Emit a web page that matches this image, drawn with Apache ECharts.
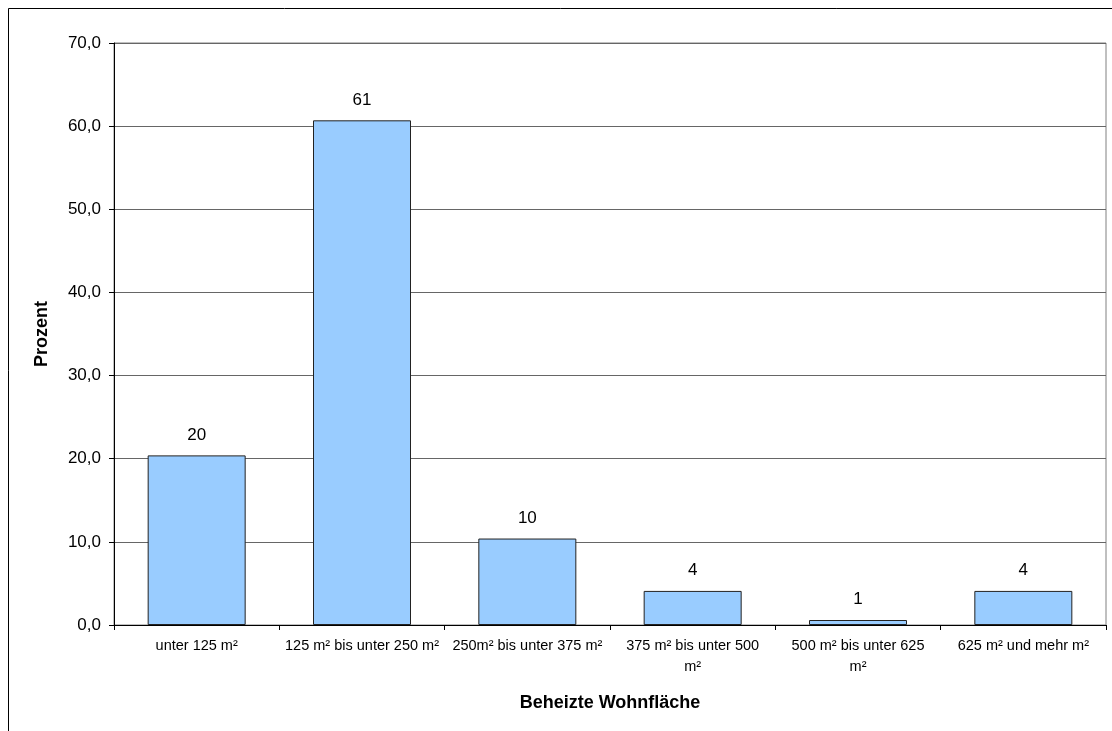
<!DOCTYPE html>
<html>
<head>
<meta charset="utf-8">
<script src="https://cdn.jsdelivr.net/npm/echarts@6/dist/echarts.min.js"></script>
<style>
html,body{margin:0;padding:0;background:#fff;}
#chart{width:1112px;height:731px;}
</style>
</head>
<body>
<div id="chart"></div>
<script>
const categories = [
  'unter 125 m²',
  '125 m² bis unter 250 m²',
  '250m² bis unter 375 m²',
  '375 m² bis unter 500\nm²',
  '500 m² bis unter 625\nm²',
  '625 m² und mehr m²'
];
const values = [20.4, 60.7, 10.4, 4.1, 0.6, 4.1];
const yTicks = { min: 0, max: 70, interval: 10 };
const xAxisTitle = 'Beheizte Wohnfläche';
const yAxisTitle = 'Prozent';

const font = '"Liberation Sans", Arial, sans-serif';
const chart = echarts.init(document.getElementById('chart'), null, {renderer: 'canvas'});
chart.setOption({
  animation: false,
  backgroundColor: '#fff',
  graphic: [{
    type: 'rect',
    shape: {x: 8.5, y: 8.5, width: 1200, height: 800},
    style: {fill: 'none', stroke: '#000', lineWidth: 1},
    silent: true
  }],
  grid: {
    left: 114, right: 6, top: 43, bottom: 106,
    show: true, borderColor: '#808080', borderWidth: 1
  },
  xAxis: {
    type: 'category',
    data: categories,
    name: xAxisTitle,
    nameLocation: 'middle',
    nameGap: 69,
    nameTextStyle: {fontFamily: font, fontWeight: 'bold', fontSize: 18, color: '#000'},
    axisLine: {lineStyle: {color: '#000', width: 1}},
    axisTick: {show: true, length: 5, alignWithLabel: false, lineStyle: {color: '#000'}},
    axisLabel: {fontFamily: font, fontSize: 14.5, color: '#000', margin: 10, lineHeight: 21, interval: 0},
    splitLine: {show: false}
  },
  yAxis: {
    type: 'value',
    min: yTicks.min, max: yTicks.max, interval: yTicks.interval,
    name: yAxisTitle,
    nameLocation: 'middle',
    nameGap: 63,
    nameRotate: 90,
    nameTextStyle: {fontFamily: font, fontWeight: 'bold', fontSize: 18, color: '#000'},
    axisLine: {show: true, lineStyle: {color: '#000', width: 1}},
    axisTick: {show: true, length: 5, lineStyle: {color: '#000'}},
    axisLabel: {
      fontFamily: font, fontSize: 17, color: '#000', margin: 13,
      formatter: v => v.toFixed(1).replace('.', ',')
    },
    splitLine: {show: true, lineStyle: {color: '#666', width: 1}}
  },
  series: [{
    type: 'bar',
    data: values,
    barWidth: 98,
    itemStyle: {color: '#99CCFF', borderColor: '#222', borderWidth: 1},
    label: {
      show: true, position: 'top', distance: 12,
      fontFamily: font, fontSize: 17, color: '#000',
      formatter: p => Math.round(p.value).toString()
    }
  }]
});
</script>
</body>
</html>
